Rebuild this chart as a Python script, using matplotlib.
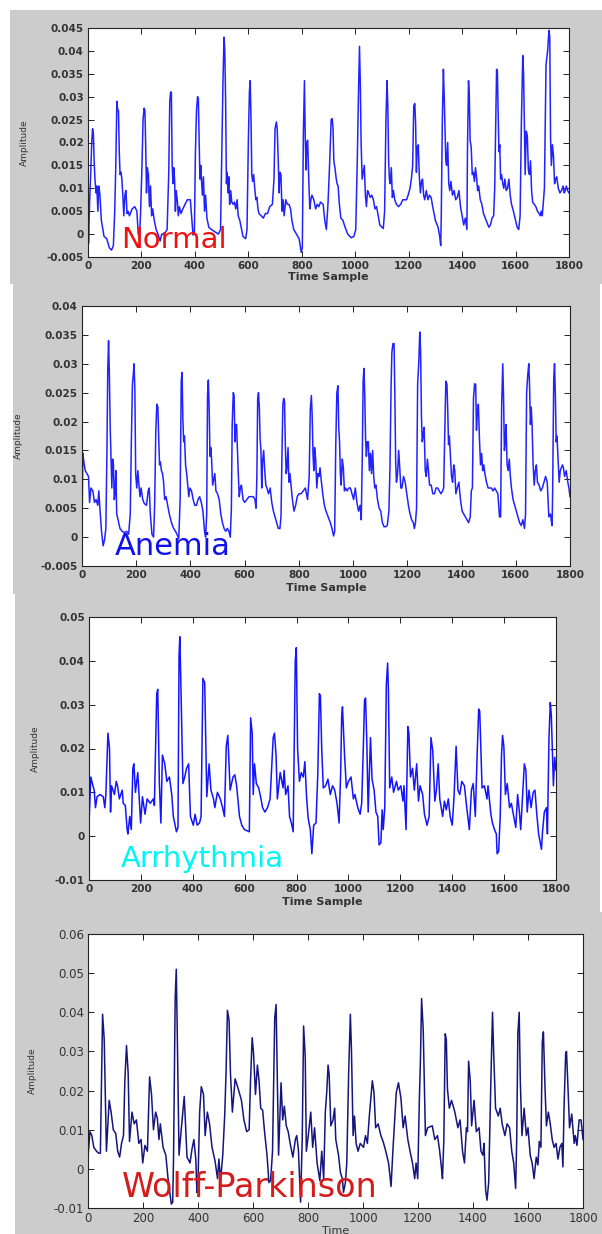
import numpy as np
import matplotlib
matplotlib.use("Agg")
import matplotlib.pyplot as plt
from matplotlib.patches import Rectangle

# --- ECG traces, (time sample, amplitude) ---
normal_pts = [
    (0, 0.005), (2, -0.002), (6, 0.007), (10, 0.013), (14, 0.020), (17, 0.023), (20, 0.022),
    (23, 0.016), (26, 0.012), (30, 0.009), (33, 0.0105), (37, 0.005), (40, 0.0105), (44, 0.009),
    (50, 0.003), (60, -0.0005), (70, -0.001), (80, -0.003), (88, -0.0035), (95, -0.0025),
    (100, 0.005), (104, 0.015), (108, 0.029), (111, 0.027), (114, 0.027), (117, 0.018),
    (120, 0.013), (123, 0.0135), (126, 0.0125), (130, 0.009), (134, 0.004), (138, 0.0085),
    (142, 0.0095), (146, 0.0045), (150, 0.005), (155, 0.004), (165, 0.0055), (175, 0.006),
    (183, 0.005), (188, 0.0), (193, -0.0005), (197, 0.005), (202, 0.015), (206, 0.025),
    (210, 0.0275), (213, 0.027), (216, 0.019), (219, 0.009), (222, 0.0145), (226, 0.013),
    (230, 0.006), (234, 0.0105), (238, 0.004), (242, 0.0055), (248, 0.003), (255, 0.001),
    (262, 0.0), (270, -0.0015), (276, 0.0), (286, 0.0), (296, 0.001), (302, 0.013),
    (306, 0.029), (309, 0.031), (312, 0.031), (315, 0.015), (318, 0.011), (321, 0.0145),
    (324, 0.012), (327, 0.005), (330, 0.0095), (334, 0.0075), (338, 0.004), (342, 0.006),
    (348, 0.0045), (355, 0.0055), (363, 0.0065), (372, 0.0075), (383, 0.0075), (393, -0.0002),
    (398, 0.0), (402, 0.018), (406, 0.027), (410, 0.030), (413, 0.0295), (416, 0.020),
    (419, 0.012), (422, 0.015), (425, 0.0115), (428, 0.0085), (432, 0.0125), (436, 0.005),
    (440, 0.0085), (445, 0.0035), (452, 0.0015), (462, 0.001), (475, 0.0005), (488, 0.0),
    (496, 0.001), (500, 0.015), (505, 0.033), (509, 0.043), (512, 0.040), (515, 0.029),
    (518, 0.011), (521, 0.0135), (524, 0.009), (527, 0.0125), (530, 0.0065), (534, 0.0095),
    (538, 0.007), (543, 0.0065), (548, 0.007), (553, 0.0055), (558, 0.0075), (562, 0.004),
    (568, 0.003), (575, 0.001), (580, -0.0005), (590, -0.001), (595, 0.001), (600, 0.020),
    (604, 0.031), (607, 0.0335), (610, 0.025), (613, 0.013), (616, 0.0115), (620, 0.013),
    (624, 0.010), (628, 0.0075), (632, 0.008), (636, 0.0055), (640, 0.0045), (648, 0.004),
    (656, 0.0035), (664, 0.0045), (672, 0.0045), (680, 0.006), (690, 0.0065), (696, 0.012),
    (700, 0.023), (705, 0.0245), (708, 0.023), (712, 0.016), (715, 0.009), (718, 0.0135),
    (722, 0.013), (726, 0.005), (730, 0.0075), (734, 0.004), (740, 0.0075), (746, 0.0065),
    (752, 0.0065), (758, 0.0055), (763, 0.003), (770, 0.001), (780, 0.0), (790, -0.001),
    (798, -0.004), (802, -0.003), (806, 0.022), (810, 0.0335), (813, 0.021), (816, 0.014),
    (819, 0.020), (822, 0.0205), (826, 0.012), (830, 0.0055), (834, 0.0075), (838, 0.0085),
    (845, 0.0075), (852, 0.0055), (858, 0.0065), (864, 0.006), (870, 0.007), (880, 0.0065),
    (886, 0.003), (892, 0.001), (898, 0.0065), (904, 0.015), (910, 0.025), (914, 0.0252),
    (917, 0.023), (920, 0.016), (924, 0.0145), (928, 0.0125), (932, 0.011), (936, 0.0105),
    (940, 0.007), (946, 0.0035), (954, 0.003), (962, 0.0015), (972, 0.0), (985, -0.0008),
    (995, -0.0005), (1002, 0.001), (1008, 0.017), (1012, 0.030), (1016, 0.041), (1019, 0.033),
    (1022, 0.020), (1026, 0.012), (1030, 0.0135), (1034, 0.015), (1038, 0.0085), (1042, 0.006),
    (1046, 0.0095), (1050, 0.009), (1056, 0.008), (1062, 0.0085), (1068, 0.0075), (1074, 0.0055),
    (1080, 0.006), (1086, 0.004), (1092, 0.002), (1105, 0.0012), (1110, 0.005), (1115, 0.025),
    (1119, 0.0335), (1122, 0.028), (1125, 0.016), (1128, 0.012), (1131, 0.011), (1135, 0.0145),
    (1139, 0.008), (1143, 0.0095), (1148, 0.0075), (1154, 0.0065), (1162, 0.006), (1170, 0.0065),
    (1178, 0.0075), (1186, 0.0075), (1192, 0.0075), (1198, 0.0085), (1205, 0.010), (1210, 0.012),
    (1215, 0.015), (1219, 0.028), (1223, 0.0285), (1226, 0.024), (1229, 0.0135), (1232, 0.019),
    (1236, 0.0195), (1240, 0.0125), (1244, 0.009), (1248, 0.0115), (1252, 0.012), (1256, 0.0085),
    (1260, 0.0075), (1266, 0.0095), (1272, 0.0075), (1278, 0.0085), (1284, 0.008), (1290, 0.006),
    (1300, 0.003), (1310, 0.0015), (1316, -0.0005), (1320, -0.0025), (1322, 0.004), (1326, 0.025),
    (1330, 0.036), (1333, 0.030), (1336, 0.0225), (1339, 0.016), (1342, 0.015), (1346, 0.020),
    (1350, 0.011), (1354, 0.0095), (1358, 0.0115), (1364, 0.0085), (1370, 0.0095), (1376, 0.0075),
    (1382, 0.008), (1388, 0.0095), (1394, 0.006), (1400, 0.004), (1406, 0.002), (1412, 0.0035),
    (1418, 0.001), (1420, 0.018), (1424, 0.0335), (1427, 0.030), (1430, 0.0205), (1434, 0.019),
    (1438, 0.013), (1442, 0.0135), (1446, 0.0115), (1450, 0.0145), (1454, 0.0125), (1458, 0.0095),
    (1462, 0.0105), (1468, 0.0075), (1474, 0.0065), (1480, 0.0045), (1490, 0.003), (1500, 0.0015),
    (1506, 0.002), (1512, 0.0035), (1518, 0.004), (1522, 0.010), (1526, 0.025), (1529, 0.036),
    (1532, 0.0355), (1535, 0.026), (1538, 0.018), (1541, 0.0195), (1544, 0.012), (1548, 0.013),
    (1552, 0.011), (1556, 0.010), (1560, 0.012), (1565, 0.0095), (1570, 0.010), (1575, 0.012),
    (1580, 0.0085), (1585, 0.0065), (1592, 0.005), (1600, 0.003), (1606, 0.0015), (1612, 0.001),
    (1617, 0.004), (1622, 0.025), (1627, 0.039), (1630, 0.035), (1633, 0.024), (1636, 0.013),
    (1640, 0.0225), (1644, 0.0215), (1648, 0.014), (1652, 0.013), (1656, 0.016), (1660, 0.0095),
    (1664, 0.007), (1670, 0.0065), (1676, 0.006), (1682, 0.005), (1688, 0.0045), (1692, 0.004),
    (1696, 0.005), (1700, 0.004), (1708, 0.010), (1714, 0.037), (1720, 0.040), (1725, 0.0445),
    (1728, 0.043), (1731, 0.021), (1734, 0.015), (1738, 0.0195), (1742, 0.017), (1746, 0.011),
    (1750, 0.012), (1754, 0.0125), (1760, 0.010), (1766, 0.009), (1772, 0.0095), (1778, 0.0105),
    (1782, 0.009), (1786, 0.0095), (1790, 0.0105), (1795, 0.0095), (1800, 0.009),
]

anemia_pts = [
    (0, 0.001), (3, 0.0145), (7, 0.013), (12, 0.0115), (18, 0.011), (24, 0.0105), (28, 0.006),
    (33, 0.0085), (40, 0.008), (46, 0.006), (52, 0.0065), (58, 0.0055), (62, 0.008), (66, 0.005),
    (72, 0.001), (78, -0.0015), (83, -0.0005), (88, 0.0015), (92, 0.015), (95, 0.029), (98, 0.034),
    (101, 0.028), (104, 0.019), (107, 0.0135), (110, 0.0085), (113, 0.0135), (116, 0.0125),
    (119, 0.0065), (122, 0.0075), (125, 0.0115), (128, 0.004), (133, 0.003), (140, 0.0015),
    (148, 0.001), (156, 0.0008), (165, 0.001), (172, 0.0005), (178, 0.004), (182, 0.0165),
    (186, 0.0265), (189, 0.028), (192, 0.030), (195, 0.0255), (198, 0.011), (202, 0.0085),
    (206, 0.0115), (210, 0.009), (214, 0.007), (218, 0.0085), (224, 0.0065), (230, 0.0058),
    (238, 0.0055), (244, 0.008), (248, 0.0085), (252, 0.004), (258, 0.0005), (264, 0.0),
    (268, 0.0055), (272, 0.018), (276, 0.023), (280, 0.0225), (283, 0.017), (286, 0.0125),
    (289, 0.013), (293, 0.0115), (297, 0.011), (301, 0.0095), (305, 0.0065), (310, 0.007),
    (316, 0.0055), (322, 0.004), (330, 0.0025), (338, 0.0015), (345, 0.001), (352, 0.0003),
    (357, -0.0002), (362, 0.0065), (366, 0.027), (369, 0.0285), (372, 0.0205), (375, 0.0165),
    (378, 0.0175), (382, 0.0125), (386, 0.011), (390, 0.009), (394, 0.007), (398, 0.0085),
    (404, 0.008), (410, 0.0065), (416, 0.0055), (422, 0.0055), (428, 0.0065), (434, 0.007),
    (440, 0.006), (446, 0.0045), (452, 0.001), (456, 0.0), (460, 0.004), (463, 0.0245),
    (466, 0.0272), (469, 0.0225), (472, 0.014), (475, 0.0155), (478, 0.0135), (482, 0.009),
    (486, 0.010), (490, 0.011), (494, 0.008), (500, 0.0075), (506, 0.0065), (512, 0.004),
    (518, 0.0025), (524, 0.0015), (530, 0.001), (536, 0.0015), (542, 0.001), (547, 0.0),
    (551, 0.005), (554, 0.0195), (558, 0.025), (561, 0.0245), (564, 0.0165), (567, 0.0195),
    (570, 0.0195), (573, 0.0155), (576, 0.0115), (580, 0.007), (584, 0.0085), (588, 0.009),
    (594, 0.0065), (600, 0.006), (608, 0.0065), (616, 0.007), (624, 0.007), (632, 0.007),
    (638, 0.0065), (642, 0.005), (645, 0.0105), (648, 0.024), (651, 0.025), (654, 0.0225),
    (657, 0.017), (660, 0.015), (663, 0.0085), (666, 0.013), (670, 0.015), (674, 0.0115),
    (678, 0.009), (682, 0.0085), (688, 0.0075), (694, 0.0085), (700, 0.006), (706, 0.0045),
    (712, 0.0035), (718, 0.0025), (724, 0.0015), (730, 0.0015), (734, 0.0035), (738, 0.0155),
    (741, 0.023), (744, 0.024), (747, 0.0235), (750, 0.016), (753, 0.011), (756, 0.012),
    (760, 0.0155), (763, 0.0095), (767, 0.011), (771, 0.009), (776, 0.0065), (782, 0.0045),
    (788, 0.0055), (794, 0.007), (800, 0.0075), (808, 0.0075), (816, 0.008), (824, 0.0085),
    (832, 0.0065), (838, 0.0105), (842, 0.022), (846, 0.0245), (849, 0.021), (852, 0.0145),
    (855, 0.0115), (858, 0.0155), (862, 0.0135), (866, 0.0085), (870, 0.011), (874, 0.0105),
    (878, 0.012), (882, 0.010), (888, 0.0075), (894, 0.0055), (900, 0.0045), (908, 0.0035),
    (916, 0.0025), (922, 0.0015), (928, 0.0002), (932, 0.001), (936, 0.016), (940, 0.025),
    (944, 0.0262), (947, 0.019), (950, 0.0165), (953, 0.011), (956, 0.009), (960, 0.0135),
    (964, 0.012), (968, 0.008), (972, 0.0085), (978, 0.008), (984, 0.0085), (990, 0.0085),
    (996, 0.0075), (1002, 0.0065), (1008, 0.0085), (1014, 0.006), (1020, 0.0045), (1026, 0.0055),
    (1030, 0.003), (1034, 0.0145), (1037, 0.027), (1040, 0.0292), (1043, 0.0245), (1046, 0.017),
    (1049, 0.014), (1052, 0.0165), (1056, 0.0165), (1060, 0.0115), (1064, 0.0145), (1068, 0.011),
    (1072, 0.015), (1076, 0.0105), (1080, 0.0085), (1084, 0.009), (1090, 0.0065), (1096, 0.005),
    (1102, 0.0045), (1108, 0.0025), (1114, 0.0018), (1120, 0.0018), (1126, 0.002), (1132, 0.0045),
    (1136, 0.012), (1140, 0.026), (1143, 0.032), (1147, 0.0335), (1151, 0.0335), (1154, 0.0245),
    (1157, 0.013), (1160, 0.0095), (1164, 0.011), (1168, 0.015), (1172, 0.012), (1176, 0.0085),
    (1180, 0.0085), (1186, 0.0105), (1192, 0.0095), (1198, 0.0075), (1204, 0.0055), (1210, 0.004),
    (1216, 0.003), (1222, 0.0025), (1226, 0.0015), (1230, 0.0025), (1234, 0.005), (1238, 0.0265),
    (1242, 0.030), (1246, 0.0355), (1249, 0.032), (1252, 0.021), (1255, 0.0165), (1258, 0.0175),
    (1262, 0.019), (1266, 0.0115), (1270, 0.0105), (1274, 0.0135), (1278, 0.0115), (1282, 0.009),
    (1288, 0.009), (1294, 0.0075), (1300, 0.0075), (1306, 0.0085), (1312, 0.0085), (1318, 0.008),
    (1324, 0.0075), (1330, 0.008), (1334, 0.0085), (1338, 0.018), (1342, 0.027), (1346, 0.0265),
    (1349, 0.022), (1352, 0.016), (1355, 0.0175), (1359, 0.014), (1363, 0.0105), (1367, 0.0095),
    (1371, 0.0125), (1375, 0.0115), (1379, 0.0075), (1384, 0.0085), (1390, 0.0095), (1396, 0.0065),
    (1402, 0.0045), (1408, 0.004), (1414, 0.0035), (1420, 0.003), (1426, 0.0025), (1432, 0.0035),
    (1436, 0.008), (1440, 0.0085), (1444, 0.024), (1448, 0.0265), (1452, 0.0265), (1455, 0.0185),
    (1458, 0.0215), (1462, 0.023), (1466, 0.017), (1470, 0.0125), (1474, 0.0145), (1478, 0.0115),
    (1482, 0.0125), (1486, 0.011), (1492, 0.0095), (1498, 0.0085), (1504, 0.0085), (1510, 0.0085),
    (1516, 0.008), (1522, 0.0085), (1528, 0.008), (1534, 0.0075), (1540, 0.0035), (1544, 0.0035),
    (1548, 0.023), (1552, 0.030), (1555, 0.024), (1558, 0.015), (1561, 0.0165), (1564, 0.0195),
    (1568, 0.0125), (1572, 0.0115), (1576, 0.0135), (1580, 0.0105), (1584, 0.0085), (1590, 0.0065),
    (1596, 0.0055), (1602, 0.0045), (1608, 0.0035), (1614, 0.0025), (1620, 0.002), (1626, 0.003),
    (1632, 0.0015), (1636, 0.004), (1640, 0.025), (1644, 0.028), (1648, 0.030), (1651, 0.026),
    (1654, 0.0195), (1657, 0.0225), (1660, 0.0195), (1664, 0.0125), (1668, 0.009), (1672, 0.0115),
    (1676, 0.0125), (1680, 0.0095), (1686, 0.009), (1692, 0.008), (1698, 0.0085), (1704, 0.0095),
    (1710, 0.0105), (1716, 0.0095), (1722, 0.0035), (1728, 0.004), (1732, 0.0025), (1734, 0.002),
    (1736, 0.008), (1740, 0.0275), (1743, 0.030), (1746, 0.0245), (1749, 0.0165), (1752, 0.0175),
    (1756, 0.0135), (1760, 0.0095), (1764, 0.0115), (1768, 0.012), (1772, 0.0125), (1776, 0.012),
    (1780, 0.0105), (1786, 0.0115), (1792, 0.0095), (1796, 0.0085), (1800, 0.007),
]

arrhythmia_pts = [
    (0, 0.003), (7, 0.0135), (13, 0.012), (20, 0.0105), (25, 0.0065), (31, 0.009), (43, 0.0095),
    (55, 0.009), (61, 0.0065), (65, 0.0095), (73, 0.0235), (79, 0.020), (83, 0.0055), (87, 0.0115),
    (98, 0.0095), (105, 0.0125), (110, 0.0115), (117, 0.0085), (128, 0.0105), (132, 0.0075),
    (140, 0.007), (147, 0.0015), (150, 0.0005), (157, 0.0045), (163, 0.0015), (169, 0.0155),
    (173, 0.0165), (179, 0.010), (188, 0.0145), (199, 0.003), (206, 0.009), (216, 0.005),
    (224, 0.0085), (236, 0.0075), (248, 0.0085), (252, 0.007), (261, 0.0325), (265, 0.0335),
    (271, 0.0125), (277, 0.003), (283, 0.0185), (292, 0.0165), (300, 0.0125), (310, 0.0135),
    (319, 0.0095), (325, 0.0045), (337, 0.001), (343, 0.002), (347, 0.041), (350, 0.0455),
    (354, 0.035), (362, 0.012), (369, 0.0135), (376, 0.0155), (384, 0.0165), (391, 0.0045),
    (402, 0.0025), (409, 0.005), (417, 0.0025), (426, 0.003), (432, 0.0045), (439, 0.036),
    (446, 0.035), (454, 0.009), (463, 0.0165), (470, 0.0105), (480, 0.0085), (485, 0.0065),
    (495, 0.010), (506, 0.0085), (515, 0.0065), (522, 0.0045), (529, 0.0205), (535, 0.023),
    (544, 0.0105), (555, 0.0135), (562, 0.014), (569, 0.0115), (580, 0.0045), (589, 0.0025),
    (599, 0.0015), (618, 0.001), (623, 0.027), (629, 0.0235), (633, 0.0095), (638, 0.0165),
    (645, 0.012), (654, 0.011), (663, 0.0085), (669, 0.0065), (678, 0.0055), (688, 0.0065),
    (698, 0.0085), (710, 0.0225), (715, 0.0235), (721, 0.0185), (726, 0.0085), (737, 0.0145),
    (748, 0.011), (752, 0.015), (758, 0.0095), (767, 0.0115), (773, 0.0045), (780, 0.003),
    (787, 0.001), (795, 0.040), (799, 0.043), (804, 0.020), (811, 0.0125), (818, 0.0145),
    (826, 0.0135), (832, 0.017), (839, 0.0085), (845, 0.004), (853, 0.0015), (859, -0.004),
    (866, 0.0025), (875, 0.003), (882, 0.0145), (888, 0.0325), (892, 0.032), (897, 0.020),
    (903, 0.011), (912, 0.0115), (921, 0.013), (930, 0.0095), (939, 0.0115), (947, 0.0105),
    (956, 0.0075), (964, 0.003), (970, 0.0145), (974, 0.0275), (977, 0.0295), (985, 0.0185),
    (992, 0.011), (1000, 0.0125), (1010, 0.0135), (1019, 0.0085), (1025, 0.0095), (1036, 0.0065),
    (1045, 0.005), (1051, 0.0075), (1057, 0.0195), (1062, 0.031), (1066, 0.0315), (1071, 0.021),
    (1076, 0.0055), (1085, 0.0225), (1091, 0.013), (1099, 0.0105), (1106, 0.0055), (1113, 0.0045),
    (1118, -0.002), (1125, -0.0015), (1130, 0.006), (1134, 0.0015), (1140, 0.0065), (1146, 0.0345),
    (1151, 0.0395), (1154, 0.0335), (1159, 0.011), (1167, 0.0135), (1174, 0.010), (1185, 0.0125),
    (1192, 0.0105), (1202, 0.0115), (1210, 0.008), (1214, 0.0115), (1222, 0.0015), (1229, 0.025),
    (1233, 0.0235), (1239, 0.0135), (1247, 0.0155), (1254, 0.0105), (1263, 0.0165), (1270, 0.008),
    (1276, 0.0115), (1286, 0.0095), (1293, 0.005), (1303, 0.0025), (1311, 0.0045), (1318, 0.0225),
    (1325, 0.0195), (1333, 0.008), (1339, 0.0105), (1346, 0.0165), (1352, 0.0085), (1363, 0.0045),
    (1370, 0.008), (1377, 0.006), (1385, 0.0085), (1392, 0.0045), (1400, 0.0025), (1407, 0.009),
    (1415, 0.0205), (1422, 0.0105), (1429, 0.0095), (1437, 0.0125), (1447, 0.0115), (1456, 0.0065),
    (1466, 0.0015), (1474, 0.0105), (1481, 0.012), (1489, 0.0045), (1496, 0.0185), (1502, 0.029),
    (1506, 0.0285), (1515, 0.011), (1524, 0.0115), (1534, 0.0085), (1538, 0.0115), (1549, 0.005),
    (1555, 0.003), (1563, 0.0015), (1570, 0.0005), (1573, -0.004), (1579, -0.0035), (1585, 0.0045),
    (1590, 0.0185), (1594, 0.023), (1599, 0.0205), (1605, 0.0095), (1612, 0.012), (1621, 0.0065),
    (1628, 0.0075), (1637, 0.0045), (1645, 0.002), (1652, 0.0095), (1659, 0.0055), (1664, 0.0015),
    (1678, 0.0165), (1684, 0.015), (1689, 0.0055), (1696, 0.0105), (1704, 0.0065), (1712, 0.010),
    (1719, 0.0105), (1726, 0.005), (1733, 0.0005), (1744, -0.003), (1748, 0.001), (1755, 0.0055),
    (1763, 0.0065), (1767, 0.0005), (1773, 0.0225), (1778, 0.0305), (1782, 0.0275), (1790, 0.0115),
    (1795, 0.018), (1800, 0.015),
]

wolff_pts = [
    (0, 0.003), (7, 0.0095), (14, 0.0085), (21, 0.0055), (31, 0.0045), (39, 0.004), (45, 0.004),
    (49, 0.0225), (53, 0.0395), (59, 0.033), (67, 0.0045), (77, 0.0175), (84, 0.0145), (92, 0.010),
    (101, 0.009), (108, 0.0045), (115, 0.003), (122, 0.0065), (129, 0.0085), (134, 0.0225),
    (140, 0.0315), (146, 0.0245), (151, 0.007), (160, 0.0145), (168, 0.0115), (176, 0.0125),
    (185, 0.0065), (193, 0.0075), (199, 0.0015), (207, 0.006), (216, 0.0045), (224, 0.0235),
    (231, 0.019), (238, 0.010), (246, 0.0145), (252, 0.013), (258, 0.0075), (263, 0.0115),
    (273, 0.0055), (283, 0.0035), (291, -0.0025), (303, -0.009), (308, -0.0085), (311, 0.0025),
    (317, 0.0435), (321, 0.051), (324, 0.0375), (331, 0.0035), (339, 0.010), (350, 0.0185),
    (360, 0.003), (371, 0.0015), (378, 0.005), (385, 0.0075), (392, 0.0025), (396, -0.006),
    (400, -0.003), (406, 0.0145), (412, 0.021), (420, 0.019), (426, 0.0085), (434, 0.0145),
    (442, 0.0115), (451, 0.0055), (462, 0.002), (471, -0.0025), (476, 0.0025), (482, -0.003),
    (490, 0.0035), (497, 0.0135), (502, 0.0245), (507, 0.0405), (513, 0.038), (518, 0.0245),
    (525, 0.0145), (535, 0.023), (546, 0.0205), (558, 0.0175), (567, 0.0125), (577, 0.0095),
    (586, 0.010), (591, 0.0225), (597, 0.0335), (602, 0.0295), (609, 0.019), (616, 0.0265),
    (622, 0.0225), (628, 0.0155), (635, 0.015), (642, 0.0095), (651, 0.0035), (658, -0.0035),
    (664, -0.003), (671, 0.0045), (679, 0.0385), (684, 0.042), (689, 0.020), (693, 0.0035),
    (702, 0.022), (708, 0.0125), (714, 0.016), (721, 0.011), (728, 0.0095), (735, 0.0065),
    (745, 0.003), (754, 0.0075), (759, 0.0085), (765, 0.005), (773, -0.0085), (779, 0.0075),
    (784, 0.0365), (790, 0.0285), (794, 0.0045), (801, 0.0085), (810, 0.0145), (817, 0.0055),
    (824, 0.0105), (833, 0.0015), (843, -0.003), (850, 0.0045), (857, -0.0025), (863, 0.0145),
    (868, 0.0195), (873, 0.0265), (877, 0.024), (883, 0.011), (891, 0.0125), (897, 0.0155),
    (901, 0.0075), (911, 0.0035), (918, -0.001), (925, -0.0025), (929, -0.006), (936, -0.0035),
    (941, 0.0015), (948, 0.025), (954, 0.0395), (958, 0.0305), (964, 0.0085), (969, 0.0135),
    (975, 0.0065), (982, 0.0045), (990, 0.0065), (1002, 0.0055), (1009, 0.0085), (1016, 0.0065),
    (1023, 0.0135), (1034, 0.0225), (1040, 0.0195), (1046, 0.0105), (1055, 0.0115), (1065, 0.0085),
    (1073, 0.007), (1081, 0.005), (1093, 0.0015), (1102, -0.0045), (1109, 0.005), (1121, 0.0195),
    (1129, 0.022), (1138, 0.018), (1146, 0.0105), (1153, 0.0135), (1163, 0.0075), (1171, 0.0045),
    (1180, 0.0015), (1188, -0.0025), (1193, 0.0015), (1199, -0.0025), (1205, 0.018), (1209, 0.028),
    (1213, 0.0435), (1219, 0.0355), (1227, 0.0085), (1235, 0.0105), (1252, 0.011), (1261, 0.0075),
    (1271, 0.0085), (1278, 0.005), (1285, 0.0005), (1289, -0.0025), (1294, 0.0075), (1299, 0.0345),
    (1303, 0.033), (1307, 0.0205), (1314, 0.0155), (1322, 0.0175), (1334, 0.0145), (1345, 0.0105),
    (1353, 0.0125), (1362, 0.0045), (1369, 0.0015), (1376, 0.0105), (1380, 0.0095), (1384, 0.0275),
    (1390, 0.0225), (1395, 0.011), (1404, 0.0175), (1412, 0.0095), (1422, 0.0105), (1429, 0.0045),
    (1436, 0.0035), (1440, 0.0065), (1446, -0.0055), (1451, -0.008), (1457, -0.0035), (1465, 0.0225),
    (1471, 0.040), (1475, 0.030), (1482, 0.0155), (1492, 0.0135), (1499, 0.0155), (1506, 0.0115),
    (1516, 0.0085), (1524, 0.0115), (1533, 0.0105), (1541, 0.0045), (1548, 0.0015), (1555, -0.005),
    (1559, 0.0075), (1563, 0.0345), (1568, 0.040), (1572, 0.0225), (1578, 0.0085), (1586, 0.0155),
    (1594, 0.0085), (1600, 0.0105), (1608, 0.0035), (1615, 0.0015), (1622, -0.0025), (1630, 0.003),
    (1636, 0.001), (1641, 0.007), (1647, 0.0055), (1652, 0.0325), (1656, 0.035), (1662, 0.0205),
    (1667, 0.011), (1674, 0.0145), (1681, 0.0115), (1688, 0.0075), (1695, 0.0055), (1702, 0.0065),
    (1709, 0.0025), (1716, 0.0055), (1723, 0.0065), (1727, 0.0005), (1731, 0.0155), (1737, 0.0295),
    (1740, 0.030), (1745, 0.0215), (1751, 0.0105), (1759, 0.014), (1768, 0.0065), (1772, 0.0085),
    (1778, 0.006), (1786, 0.0125), (1793, 0.0125), (1800, 0.0075),
]

labels = ["Normal", "Anemia", "Arrhythmia", "Wolff-Parkinson"]
label_colors = ["#ee1111", "#1010ee", "#00f6f6", "#d41c1c"]
line_colors = ["#2222ff", "#2222ff", "#1414ff", "#15157e"]
ylims = [(-0.005, 0.045), (-0.005, 0.04), (-0.01, 0.05), (-0.01, 0.06)]
ystep = [0.005, 0.005, 0.01, 0.01]
xlabels = ["Time Sample", "Time Sample", "Time Sample", "Time"]

# --- layout in pixels of the 602 x 1234 reference ---
W, H = 602, 1234
panels_px = [(10, 10, 602, 284), (13, 284, 600, 594), (15, 594, 600, 912), (15, 912, 602, 1234)]
axes_px = [(88, 28, 569, 257), (82, 306, 570, 566), (89, 617, 556, 880), (88, 934, 583, 1208)]
ylabel_x = [-0.123, -0.121, -0.105, -0.103]
text_pos = [(123, -0.003), (122, -0.0031), (123, -0.0070), (124, -0.0072)]
text_size = [21, 22, 21, 24]

fig = plt.figure(figsize=(W / 100, H / 100), dpi=100, facecolor="white")

# grey window backgrounds behind each panel
for (x0, y0, x1, y1) in panels_px:
    fig.patches.append(Rectangle((x0 / W, 1 - y1 / H), (x1 - x0) / W, (y1 - y0) / H,
                                 transform=fig.transFigure, facecolor="#cccccc",
                                 edgecolor="none", zorder=-5))

series = [normal_pts, anemia_pts, arrhythmia_pts, wolff_pts]
for i, pts in enumerate(series):
    l, t, r, b = axes_px[i]
    ax = fig.add_axes([l / W, 1 - b / H, (r - l) / W, (b - t) / H])
    ax.set_facecolor("white")
    arr = np.array(pts)
    ax.plot(arr[:, 0], arr[:, 1], color=line_colors[i], lw=1.1)

    ax.set_xlim(0, 1800)
    ax.set_ylim(*ylims[i])
    ax.set_xticks(np.arange(0, 1801, 200))
    ax.set_yticks(np.arange(ylims[i][0], ylims[i][1] + 1e-9, ystep[i]))
    ax.yaxis.set_major_formatter(plt.FuncFormatter(lambda v, p: f"{v:g}" if abs(v) > 1e-12 else "0"))

    bold = "bold" if i < 3 else "normal"
    tsize = 7.5 if i < 3 else 8.5
    ax.tick_params(direction="in", length=4, width=0.7, top=True, right=True,
                   labelsize=tsize, labelcolor="#333333", color="#222222", pad=3)
    for lab in ax.get_xticklabels() + ax.get_yticklabels():
        lab.set_fontweight(bold)
    for sp in ax.spines.values():
        sp.set_linewidth(0.8)
        sp.set_color("#222222")

    ax.set_ylabel("Amplitude", fontsize=6.5, color="#333333")
    ax.yaxis.set_label_coords(ylabel_x[i], 0.5)
    ax.set_xlabel(xlabels[i], fontsize=8, color="#333333", fontweight=bold)
    ax.xaxis.set_label_coords(0.5, -0.064)

    tx, ty = text_pos[i]
    ax.text(tx, ty, labels[i], color=label_colors[i], fontsize=text_size[i],
            va="baseline", ha="left", family="DejaVu Sans")

fig.savefig("out.png", dpi=100, facecolor="white")
